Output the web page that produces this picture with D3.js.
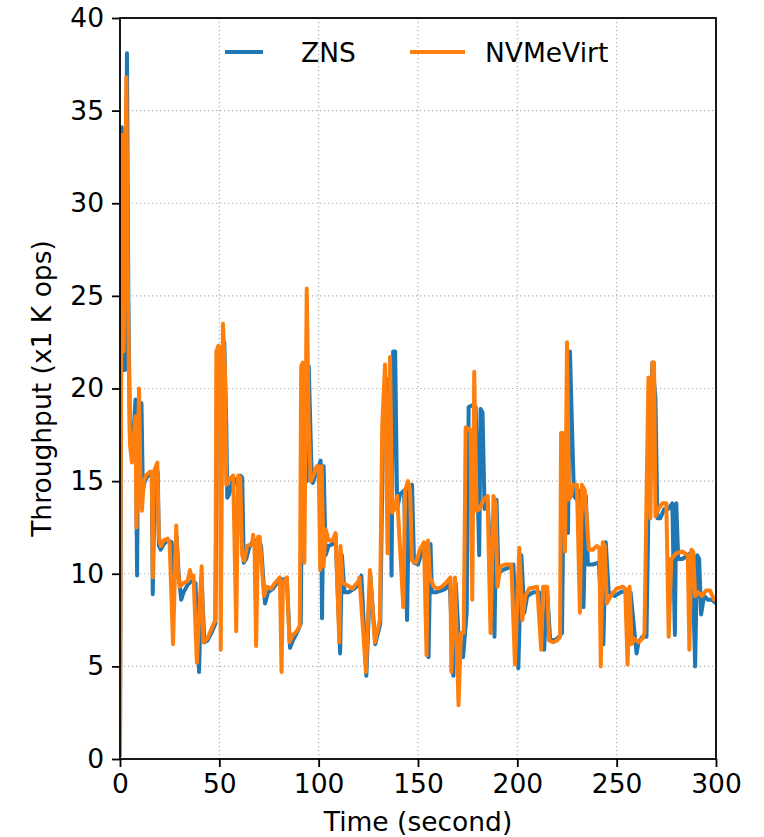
<!DOCTYPE html>
<html><head><meta charset="utf-8">
<script src="https://cdn.jsdelivr.net/npm/d3@7"></script>
<style>html,body{margin:0;padding:0;background:#fff;}svg{display:block;font-family:"DejaVu Sans",sans-serif;}</style>
</head><body>
<script>
const xTicks = [0, 50, 100, 150, 200, 250, 300];
const yTicks = [0, 5, 10, 15, 20, 25, 30, 35, 40];
const seriesNames = ["ZNS", "NVMeVirt"];

const znsT = [0,0.9,1.7,2.5,3.5,4.2,5,6,7,7.8,8.6,9.2,10.8,11.5,12.5,14,16,16.5,17.5,19,19.6,20.5,22,24,26,27,28.5,29.5,30.8,32,34,36,38,39.8,41,42.5,44,46,48,49,50,51,52.5,53.5,54,55,56.5,58,59,60.5,61.5,62.3,63.5,65,67,69.7,71,73,74.5,77,79,81,82,84,85.6,87,89,91,92,93,94,95,96.3,97,99,101,101.7,102.5,103.5,105,107,108.5,110.8,111.7,113,115,118,120,121.5,124,126,128.5,131,132.3,134,135.5,136.7,137.5,138.5,139.5,141,143,144.5,145.5,147,148,150,152,154,155.3,156.3,157,159,162,164,166,167.8,169,170.5,172.7,174.5,175.5,177.5,179,180.8,181.5,182.5,183.5,185,188.5,189.5,190.5,192.5,195,198,200.5,202,203.5,205,208,211,213.5,215,216.5,219,221,222.5,223.5,224.5,225.5,226.5,227.5,228.5,230,232,233.3,234.5,235.5,238,241,243.3,244.5,246,249,252,255,257,260,261,263,265,266.5,268,269.5,270.5,272,274,276,278,279.3,280,281,283,286,288,289.5,290.5,291.5,292.5,294,296,298,300];
const znsV = [0.2,34.1,21,21,38.1,25,17.5,16.5,18,19.4,9.9,19.3,19.2,14.5,15,15.3,15.4,8.9,15.3,15.5,11.5,11.3,11.6,11.8,11.7,10,12,10,8.6,9.0,9.4,9.6,9.5,4.7,9.8,6.3,6.4,6.8,7.3,21.5,22,21.9,22.5,18,14.1,14.3,15.0,15.1,14.8,15.3,15.2,10.6,10.8,11.4,11.8,11.8,11.5,8.4,9.0,9.2,9.5,9.6,9.7,9.7,6.0,6.4,6.8,7.3,20.5,21,15,21.2,16,14.9,15.5,16.1,7.6,15.8,11,11.5,11.6,12.1,5.7,11,9.0,9.0,9.2,9.4,9.9,4.5,9.9,6.2,7.3,17,20.5,20.5,9.9,22,22,13.5,14.3,14.5,7.5,14.5,14.8,10.6,10.5,11.2,11.6,5.5,11.6,9.0,9.0,9.1,9.2,9.5,4.5,9.5,6.5,5.5,7.9,19,19.1,19,11,18.9,18.7,13.5,14.0,6.6,14.0,10,10.2,10.3,10.5,4.9,11,7.9,8.8,9.0,9.0,5.9,9.1,6.5,6.4,6.6,6.8,17,17.5,12.2,22,18,14.2,14.0,14.5,8.2,14.2,10.5,10.5,10.6,6.2,11.7,9.0,8.8,9.0,9.1,9.0,5.7,6.3,6.6,6.6,17,21.4,19.5,13,13,13.5,13.5,13.8,6.7,13.8,10.8,10.8,11,11.2,5.0,11.0,10.8,7.8,8.8,8.6,8.6,8.4];

const nvmT = [0,0.9,1.8,3.2,4,5,6,7,7.8,8.3,9.6,10.3,11,12,13,15,16,16.5,17,18.8,19.5,20.5,22,24,25,26.7,28.3,29,30,32,34,35.2,36,37,38.7,41.1,42,44,46,48,48.5,49.5,50.3,50.7,51.8,52.8,53.5,55,57,58.5,59.5,60.5,61.5,62.5,64,66.5,67,67.7,68.5,69.5,70.3,72.5,74,76,78,80.5,81.3,82,84,85.3,87,89,90.5,91.2,92,92.8,94,95,96,97,99,100,100.8,101.5,102.5,103.5,105,107,108.5,110.4,111,112,114,117,120,120.5,123.8,125.8,128.3,130.8,132,133.4,134.7,135.9,137,138,139.5,142.6,143.5,145,146,147,149,151,153,154.3,155,156,158,160,162,164,166.3,166.8,168.6,170.4,171.6,173,174,176,176.5,177.3,178.3,179.5,181,183,185,186.5,188,189,190,191.5,194,197,198.8,201,202.5,204,206,210,212,213,215,216,218,220,221.5,222,223,224,225,226,227,228,230,231.5,232.5,234,236,238,240,241.3,242,243,244,245,247,250,253,254.3,255.5,256.5,257.5,259,261,263,264,265,266,267,268,268.8,269.5,271,273,275,276.2,277.5,280,283,285.8,286.6,287.6,288.5,289.5,291,293,295,297,299,300];
const nvmV = [0.2,33.7,22,36.8,25,17,16,17.5,18.5,12.5,20,15,13.4,15,15.3,15.5,15.5,9.8,15.5,16,12,11.5,11.8,11.9,11.6,6.2,12.6,10.5,9.3,9.5,9.6,10.2,9.8,9.9,5.2,10.4,6.3,6.5,7.0,7.5,22,22.3,22.2,5.9,23.5,21,14.8,15.1,15.3,6.9,15.3,15.2,11,10.7,11.5,11.6,12.1,11.5,6.1,12,12,8.8,9.3,9.2,9.5,9.8,4.7,9.5,9.8,6.3,6.7,6.9,7.2,21.2,21.4,10.6,25.4,18,15,15.2,15.8,15.8,10.2,15.8,10.4,12.4,11.8,11.8,12.2,6.3,11.5,9.5,9.4,9.2,9.6,9.8,4.7,10.2,6.3,7.5,18,21.3,11.1,21.7,13.3,13.5,14.2,8.2,14.5,15.0,14.5,10.7,10.6,11.3,11.7,5.6,11.8,9.8,9.3,9.2,9.3,9.5,9.8,4.7,9.8,2.9,6.8,6.8,17.9,17.8,17.6,8.6,20.9,13.4,13.5,14.0,14.2,6.8,14.2,13.8,9.3,10.4,10.5,10.5,5.1,11.4,7.5,8.8,9.2,9.3,5.9,9.3,9.3,6.4,6.3,6.4,6.6,17.6,17.6,11.2,22.5,14,14.2,14.8,14.8,7.9,14.8,14.5,11.3,11.3,11.5,11.4,5.0,11.7,11.5,8.4,8.8,9.2,9.3,9.2,5.1,9.3,6.2,6.5,6.3,6.5,6.8,14,20.6,13,21.4,21.4,13.1,13.5,13.8,13.8,6.6,10.8,11.1,11.2,11.0,5.9,11.3,11.2,8.8,9.0,8.8,9.1,9.1,8.6,8.6];

const colors = ["#1f77b4", "#ff7f0e"];
const W = 764, H = 837;
const m = {left: 120, right: 716, top: 18, bottom: 759};
const FS = 26.5;

const svg = d3.select("body").append("svg").attr("width", W).attr("height", H);
const x = d3.scaleLinear().domain([0, 300]).range([m.left, m.right]);
const y = d3.scaleLinear().domain([0, 40]).range([m.bottom, m.top]);

// grid
const g = svg.append("g");
g.selectAll(".gx").data(xTicks).join("line")
  .attr("x1", d => x(d)).attr("x2", d => x(d)).attr("y1", m.top).attr("y2", m.bottom)
  .attr("stroke", "#b0b0b0").attr("stroke-width", 1.2).attr("stroke-dasharray", "1.2,2.8");
g.selectAll(".gy").data(yTicks).join("line")
  .attr("y1", d => y(d)).attr("y2", d => y(d)).attr("x1", m.left).attr("x2", m.right)
  .attr("stroke", "#b0b0b0").attr("stroke-width", 1.2).attr("stroke-dasharray", "1.2,2.8");

// lines
const data = [znsT.map((t, i) => [t, znsV[i]]), nvmT.map((t, i) => [t, nvmV[i]])];
const line = d3.line().x(d => x(d[0])).y(d => y(d[1]));
svg.append("clipPath").attr("id", "c").append("rect")
  .attr("x", m.left).attr("y", m.top).attr("width", m.right - m.left).attr("height", m.bottom - m.top);
data.forEach((d, i) => {
  svg.append("path").datum(d).attr("d", line).attr("fill", "none")
    .attr("stroke", colors[i]).attr("stroke-width", 4)
    .attr("stroke-linejoin", "round").attr("stroke-linecap", "round")
    .attr("clip-path", "url(#c)");
});

// axes
const xAxis = svg.append("g").attr("transform", `translate(0,${m.bottom})`)
  .call(d3.axisBottom(x).tickValues(xTicks).tickSize(8).tickPadding(7).tickFormat(d3.format("d")));
const yAxis = svg.append("g").attr("transform", `translate(${m.left},0)`)
  .call(d3.axisLeft(y).tickValues(yTicks).tickSize(8).tickPadding(8).tickFormat(d3.format("d")));
[xAxis, yAxis].forEach(a => {
  a.selectAll("text").attr("font-size", FS).attr("fill", "#000").attr("font-family", "DejaVu Sans");
  a.selectAll("line").attr("stroke", "#000").attr("stroke-width", 1.8);
  a.select(".domain").remove();
});
svg.append("rect").attr("x", m.left).attr("y", m.top).attr("width", m.right - m.left)
  .attr("height", m.bottom - m.top).attr("fill", "none").attr("stroke", "#000").attr("stroke-width", 1.8);

// labels
svg.append("text").attr("x", (m.left + m.right) / 2).attr("y", 831).attr("text-anchor", "middle")
  .attr("font-size", FS).text("Time (second)");
svg.append("text").attr("transform", `translate(51,${(m.top + m.bottom) / 2}) rotate(-90)`)
  .attr("text-anchor", "middle").attr("font-size", FS).text("Throughput (x1 K ops)");

// legend
const leg = [{x1: 225, x2: 263, tx: 301}, {x1: 410, x2: 465, tx: 485}];
seriesNames.forEach((n, i) => {
  svg.append("line").attr("x1", leg[i].x1).attr("x2", leg[i].x2).attr("y1", 52).attr("y2", 52)
    .attr("stroke", colors[i]).attr("stroke-width", 4);
  svg.append("text").attr("x", leg[i].tx).attr("y", 62).attr("font-size", FS).text(n);
});
</script>
</body></html>
